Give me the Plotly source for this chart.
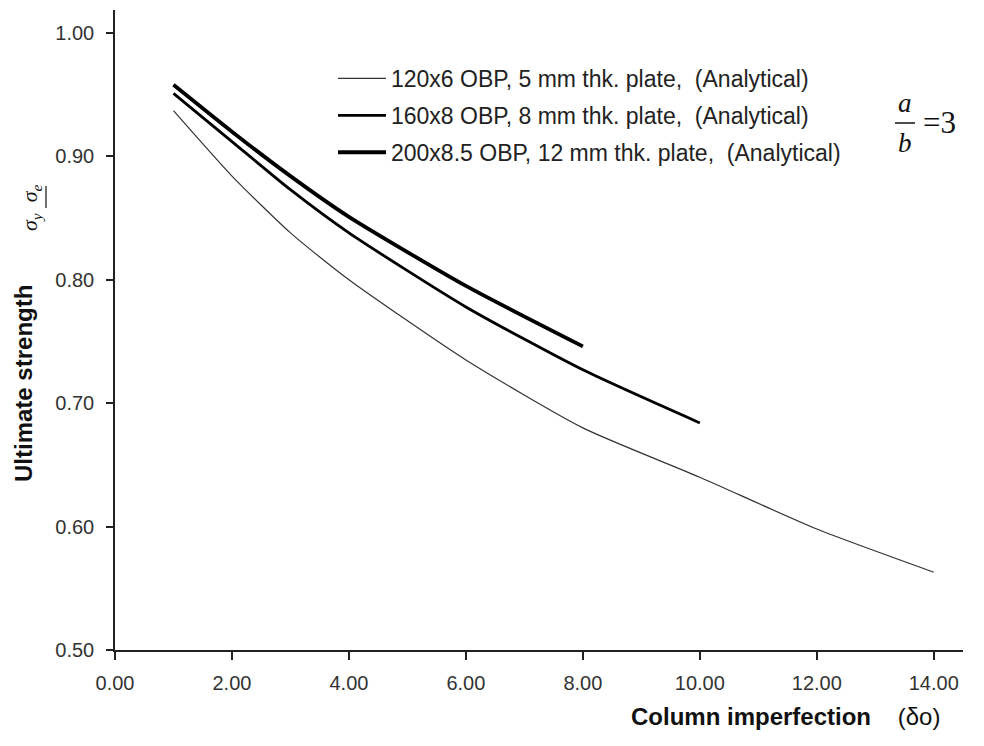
import plotly.graph_objects as go

# Data
x_120 = [1, 2, 3, 4, 6, 8, 10, 12, 14]
y_120 = [0.937, 0.884, 0.838, 0.800, 0.735, 0.680, 0.640, 0.598, 0.563]

x_160 = [1, 2, 3, 4, 6, 8, 10]
y_160 = [0.951, 0.912, 0.873, 0.838, 0.778, 0.727, 0.684]

x_200 = [1, 2, 3, 4, 6, 8]
y_200 = [0.958, 0.920, 0.884, 0.851, 0.795, 0.746]

names = [
    "120x6 OBP, 5 mm thk. plate,\u00a0\u00a0(Analytical)",
    "160x8 OBP, 8 mm thk. plate,\u00a0\u00a0(Analytical)",
    "200x8.5 OBP, 12 mm thk. plate,\u00a0\u00a0(Analytical)",
]
x_ticks = [0, 2, 4, 6, 8, 10, 12, 14]
y_ticks = [0.5, 0.6, 0.7, 0.8, 0.9, 1.0]

FONT = "Liberation Sans, Arial, sans-serif"
SERIF = "Liberation Serif, Times New Roman, serif"

# page has an 8px body margin; plot box in screen pixels
OFF = 8
L, R, T, B = 115, 963, 10, 650
W, H = 968, 730


def px(xs):
    return (xs - L) / (R - L)


def py(ys):
    return (B - ys) / (B - T)


fig = go.Figure()
series = [(x_120, y_120, 1.2, "#333333"), (x_160, y_160, 2.8, "#000000"), (x_200, y_200, 3.8, "#000000")]
for i, (xs, ys, w, c) in enumerate(series):
    fig.add_trace(go.Scatter(
        x=xs, y=ys, mode="lines", name=names[i], legendgroup=f"g{i}",
        line=dict(color=c, width=w, shape="spline", smoothing=0.6),
    ))

fig.update_layout(
    width=W, height=H,
    margin=dict(l=L - OFF, r=W - (R - OFF), t=T - OFF, b=H - (B - OFF)),
    paper_bgcolor="white", plot_bgcolor="white",
    font=dict(family=FONT, color="#222222"),
    showlegend=True,
    legend=dict(
        x=px(333), y=py(57), xanchor="left", yanchor="top",
        bgcolor="rgba(0,0,0,0)", borderwidth=0,
        font=dict(family=FONT, size=23, color="#222222"),
        traceorder="grouped", tracegroupgap=4, itemwidth=48,
    ),
    xaxis=dict(
        range=[0, 14.5], tickvals=x_ticks, ticktext=[f"{v:.2f}" for v in x_ticks],
        showgrid=False, zeroline=False, showline=True, linecolor="#222222", linewidth=1.5,
        ticks="outside", ticklen=8, tickwidth=1.5, tickcolor="#222222",
        tickfont=dict(family=FONT, size=20, color="#333333"),
        ticklabelstandoff=6,
    ),
    yaxis=dict(
        range=[0.5, 1.0186], tickvals=y_ticks, ticktext=[f"{v:.2f}" for v in y_ticks],
        showgrid=False, zeroline=False, showline=True, linecolor="#222222", linewidth=1.5,
        ticks="outside", ticklen=7, tickwidth=1.5, tickcolor="#222222",
        tickfont=dict(family=FONT, size=20, color="#333333"),
        ticklabelstandoff=8,
    ),
)

# Axis titles as annotations
fig.add_annotation(
    xref="paper", yref="paper", x=px(785), y=py(716),
    text="<b>Column imperfection</b>\u00a0\u00a0\u00a0\u00a0(δo)", showarrow=False,
    font=dict(family=FONT, size=24, color="#111111"), xanchor="center", yanchor="middle",
)
fig.add_annotation(
    xref="paper", yref="paper", x=px(23), y=py(384),
    text="<b>Ultimate strength</b>", textangle=-90, showarrow=False,
    font=dict(family=FONT, size=24, color="#111111"), xanchor="center", yanchor="middle",
)
fig.add_annotation(
    xref="paper", yref="paper", x=px(31), y=py(208),
    text="<i>σ<sub>y</sub>\u00a0\u00a0σ<sub>e</sub></i>", textangle=-90, showarrow=False,
    font=dict(family=SERIF, size=22, color="#111111"),
    xanchor="center", yanchor="middle",
)
fig.add_shape(type="line", xref="paper", yref="paper",
              x0=px(46), x1=px(46), y0=py(186), y1=py(208),
              line=dict(color="#111111", width=1.2))

# a/b = 3
fig.add_annotation(xref="paper", yref="paper", x=px(905), y=py(103),
                   text="<i>a</i>", showarrow=False, font=dict(family=SERIF, size=27, color="#111111"),
                   xanchor="center", yanchor="middle")
fig.add_annotation(xref="paper", yref="paper", x=px(905), y=py(143),
                   text="<i>b</i>", showarrow=False, font=dict(family=SERIF, size=27, color="#111111"),
                   xanchor="center", yanchor="middle")
fig.add_shape(type="line", xref="paper", yref="paper",
              x0=px(895), x1=px(915), y0=py(123), y1=py(123),
              line=dict(color="#111111", width=1.5))
fig.add_annotation(xref="paper", yref="paper", x=px(921), y=py(122),
                   text="=3", showarrow=False, font=dict(family=SERIF, size=31, color="#111111"),
                   xanchor="left", yanchor="middle")

fig.write_html("out.html")
